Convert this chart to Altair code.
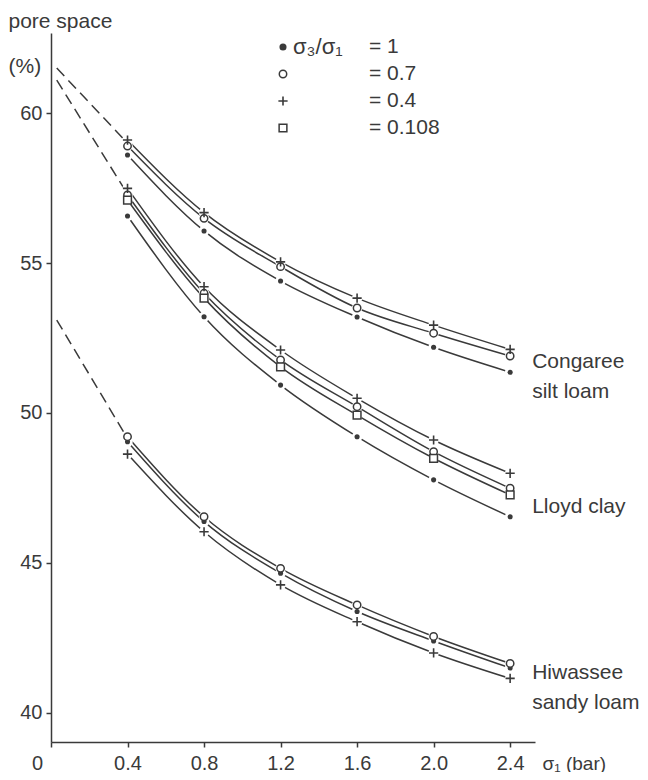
import altair as alt
import pandas as pd

# ---------------- data ----------------
stress = [0.4, 0.8, 1.2, 1.6, 2.0, 2.4]

congaree_r1 = [58.6, 56.07, 54.4, 53.2, 52.19, 51.36]
congaree_r07 = [58.9, 56.49, 54.88, 53.5, 52.66, 51.9]
congaree_r04 = [59.1, 56.68, 55.04, 53.83, 52.93, 52.12]

lloyd_r04 = [57.49, 54.21, 52.1, 50.49, 49.1, 47.99]
lloyd_r07 = [57.27, 53.99, 51.77, 50.21, 48.71, 47.49]
lloyd_r0108 = [57.1, 53.83, 51.54, 49.93, 48.49, 47.27]
lloyd_r1 = [56.57, 53.21, 50.93, 49.21, 47.77, 46.54]

hiwassee_r07 = [49.21, 46.54, 44.82, 43.6, 42.55, 41.65]
hiwassee_r1 = [49.04, 46.38, 44.66, 43.38, 42.4, 41.5]
hiwassee_r04 = [48.63, 46.04, 44.27, 43.04, 42.0, 41.15]

soils = ["Congaree", "Lloyd", "Hiwassee"]
soil_labels = ["Congaree\nsilt loam", "Lloyd clay", "Hiwassee\nsandy loam"]
label_y = [51.7, 46.87, 41.33]

# dashed extrapolation towards zero stress
dash_x0 = [0.03, 0.03, 0.03]
dash_y0 = [61.5, 61.1, 53.1]
dash_y1 = [59.0, 57.3, 49.15]

legend_ratios = ["1", "0.7", "0.4", "0.108"]
legend_texts = ["= 1", "= 0.7", "= 0.4", "= 0.108"]

x_ticks = [0, 0.4, 0.8, 1.2, 1.6, 2.0, 2.4]
y_ticks = [40, 45, 50, 55, 60]

# ---------------- tables ----------------
series = [
    ("Congaree", "1", congaree_r1),
    ("Congaree", "0.7", congaree_r07),
    ("Congaree", "0.4", congaree_r04),
    ("Lloyd", "0.4", lloyd_r04),
    ("Lloyd", "0.7", lloyd_r07),
    ("Lloyd", "0.108", lloyd_r0108),
    ("Lloyd", "1", lloyd_r1),
    ("Hiwassee", "0.7", hiwassee_r07),
    ("Hiwassee", "1", hiwassee_r1),
    ("Hiwassee", "0.4", hiwassee_r04),
]
rows = []
for soil, ratio, vals in series:
    for xv, yv in zip(stress, vals):
        rows.append({"soil": soil, "ratio": ratio, "sid": soil + ratio, "x": xv, "y": yv})
df = pd.DataFrame(rows)

drows = []
for s, x0, y0, y1 in zip(soils, dash_x0, dash_y0, dash_y1):
    drows.append({"soil": s, "x": x0, "y": y0})
    drows.append({"soil": s, "x": stress[0], "y": y1})
ddf = pd.DataFrame(drows)

ldf = pd.DataFrame({"label": soil_labels, "x": [stress[-1]] * 3, "y": label_y})

INK = "#3a3a3a"
FONT = "Liberation Sans"

xs = alt.Scale(domain=[0, 2.53], nice=False, zero=False)
ys = alt.Scale(domain=[39.03, 62.67], nice=False, zero=False)

X = alt.X(
    "x:Q",
    scale=xs,
    axis=alt.Axis(
        values=x_ticks,
        labelExpr="datum.value == 0 ? '0' : format(datum.value, '.1f')",
        labelFlush=False,
        labelOffset={"condition": {"test": "datum.value == 0", "value": -14}, "value": 0},
        title="σ₁ (bar)",
        titleX=491,
        titleY=21,
        titleAlign="left",
        titleBaseline="middle",
        titleAnchor="start",
        titleFontSize=19,
        labelPadding=6,
    ),
)
Y = alt.Y(
    "y:Q",
    scale=ys,
    axis=alt.Axis(
        values=y_ticks,
        format="d",
        title=["pore space", "(%)"],
        titleAngle=0,
        titleX=-43,
        titleY=-23,
        titleAlign="left",
        titleBaseline="top",
        titleLineHeight=45,
        titleFontSize=21,
        labelPadding=4,
    ),
)

base = alt.Chart(df)

dashed = alt.Chart(ddf).mark_line(color=INK, strokeWidth=1.5, strokeDash=[11, 6]).encode(
    x=X, y=Y, detail="soil:N"
)
lines = base.mark_line(color=INK, strokeWidth=1.5, interpolate="monotone").encode(
    x="x:Q", y="y:Q", detail="sid:N"
)
halo = base.mark_point(filled=True, color="white", opacity=1, size=110).encode(x="x:Q", y="y:Q")
dots = base.transform_filter("datum.ratio == '1'").mark_circle(
    color=INK, opacity=1, size=26
).encode(x="x:Q", y="y:Q")
circles = base.transform_filter("datum.ratio == '0.7'").mark_point(
    shape="circle", fill="white", stroke=INK, strokeWidth=1.5, opacity=1, size=55, filled=False
).encode(x="x:Q", y="y:Q")
pluses = base.transform_filter("datum.ratio == '0.4'").mark_point(
    shape="M-1,0L1,0M0,-1L0,1", stroke=INK, strokeWidth=1.6, opacity=1, size=85, filled=False
).encode(x="x:Q", y="y:Q")
squares = base.transform_filter("datum.ratio == '0.108'").mark_point(
    shape="square", fill="white", stroke=INK, strokeWidth=1.5, opacity=1, size=60, filled=False
).encode(x="x:Q", y="y:Q")

labels = alt.Chart(ldf).mark_text(
    align="left", baseline="middle", dx=22, font=FONT, fontSize=21, color=INK,
    lineBreak="\n", lineHeight=30,
).encode(x="x:Q", y="y:Q", text="label:N")

# legend (drawn by hand, as in the original figure)
leg_x_sym = 232
leg_x_txt = 318
leg_y = [14, 41, 68, 95]
leg_shapes = [
    dict(shape="circle", filled=True, fill=INK, stroke=INK, size=26),
    dict(shape="circle", filled=False, fill="white", stroke=INK, strokeWidth=1.5, size=55),
    dict(shape="M-1,0L1,0M0,-1L0,1", filled=False, stroke=INK, strokeWidth=1.6, size=85),
    dict(shape="square", filled=False, fill="white", stroke=INK, strokeWidth=1.5, size=60),
]
one = pd.DataFrame({"k": [0]})
legend_layers = []
for i, (txt, yy, sh) in enumerate(zip(legend_texts, leg_y, leg_shapes)):
    legend_layers.append(
        alt.Chart(one).mark_point(opacity=1, **sh).encode(x=alt.value(leg_x_sym), y=alt.value(yy))
    )
    legend_layers.append(
        alt.Chart(one).mark_text(
            text=txt, align="left", baseline="middle", font=FONT, fontSize=21, color=INK
        ).encode(x=alt.value(leg_x_txt), y=alt.value(yy))
    )
legend_layers.append(
    alt.Chart(one).mark_text(
        text="σ₃/σ₁", align="left", baseline="middle", font=FONT, fontSize=22, color=INK
    ).encode(x=alt.value(242), y=alt.value(leg_y[0]))
)

chart = alt.layer(
    dashed, lines, halo, dots, circles, pluses, squares, labels, *legend_layers
).properties(
    width=484,
    height=709,
    background="white",
    autosize=alt.AutoSizeParams(type="none"),
    padding={"left": 43, "top": 25, "right": 105, "bottom": 30},
).configure_view(stroke=None).configure_axis(
    grid=False,
    domainColor=INK,
    domainWidth=1.5,
    tickColor=INK,
    tickWidth=1.5,
    tickSize=5,
    labelFont=FONT,
    labelFontSize=20,
    labelColor=INK,
    titleFont=FONT,
    titleFontSize=20,
    titleFontWeight="normal",
    titleColor=INK,
)

chart.save("out.html", embed_options={"renderer": "svg", "actions": False})
